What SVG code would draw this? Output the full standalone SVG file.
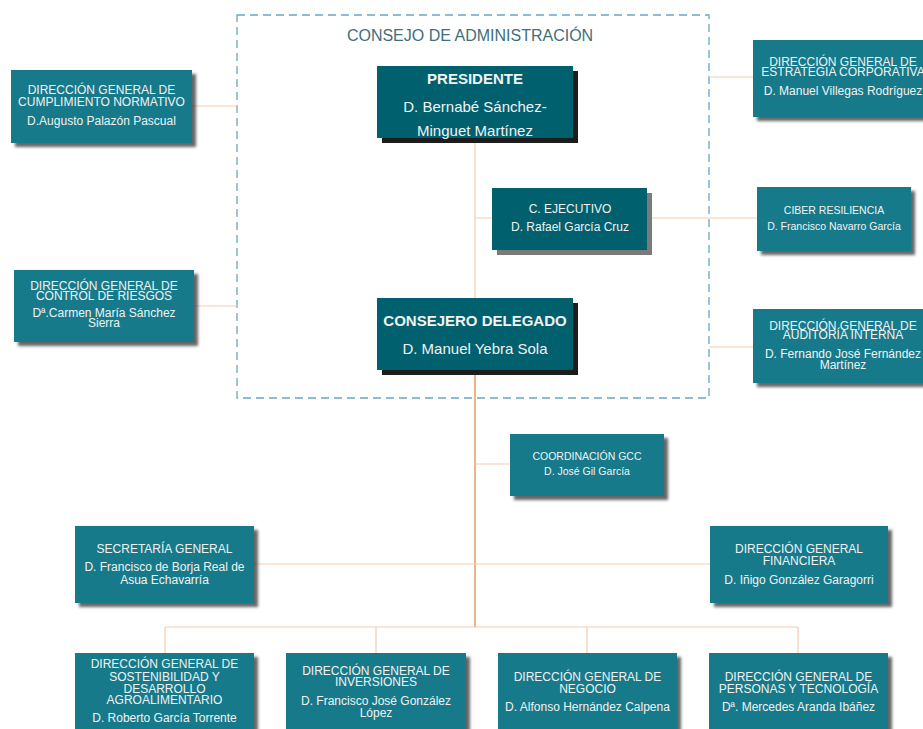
<svg xmlns="http://www.w3.org/2000/svg" width="923" height="729" viewBox="0 0 923 729">
<defs>
<filter id="sh" x="-10%" y="-10%" width="130%" height="140%">
<feDropShadow dx="4" dy="4" stdDeviation="1.6" flood-color="#333" flood-opacity="0.75"/>
</filter>
<filter id="shg" x="-10%" y="-10%" width="130%" height="140%">
<feDropShadow dx="5" dy="5" stdDeviation="0.6" flood-color="#7a7a7a" flood-opacity="1"/>
</filter>
<filter id="shk" x="-10%" y="-10%" width="130%" height="140%">
<feDropShadow dx="5" dy="5" stdDeviation="0.4" flood-color="#1e1e1e" flood-opacity="1"/>
</filter>
</defs>
<style>
.lt{fill:#147a8b;filter:url(#sh)}
.dk{fill:#00616e;filter:url(#shk)}
.dg{fill:#00616e;filter:url(#shg)}
text{font-family:"Liberation Sans",Arial,sans-serif;fill:#f2f2f2;text-anchor:middle}
.t12{font-size:12px}
.t105{font-size:10.5px}
.t15{font-size:15px}
.b15{font-size:15px;font-weight:bold}
.ln{stroke:#f6cbae;stroke-width:1.2;fill:none}
.trunk{stroke:#e8a06c;stroke-width:1.6;fill:none}
</style>
<rect width="923" height="729" fill="#ffffff"/>
<g id="consejo">
<rect x="237" y="15" width="472" height="383" fill="none" stroke="#62a9c0" stroke-width="1.3" stroke-dasharray="8,5"/>
<text x="470" y="41" style="font-size:16px;fill:#3e6f7a">CONSEJO DE ADMINISTRACIÓN</text>
</g>
<g id="connectors">
<path class="ln" d="M475 138V298"/>
<path class="ln" d="M475 218H492M647 218H757"/>
<path class="ln" d="M192 106H237M194 306H237M709 77H753M709 347H753"/>
<path class="trunk" d="M475 370V627"/>
<path class="ln" d="M475 464H510"/>
<path class="ln" d="M254 564H710"/>
<path class="ln" d="M165 627H798M165 627V653M376 627V653M587 627V653M798 627V653"/>
</g>
<g id="presidente">
<rect class="dk" x="377" y="66" width="196" height="72"/>
<text class="b15" x="475" y="84">PRESIDENTE</text>
<text class="t15" x="475" y="112">D. Bernabé Sánchez-<tspan x="475" dy="24">Minguet Martínez</tspan></text>
</g>
<g id="ejecutivo">
<rect class="dg" x="492" y="188" width="155" height="62"/>
<text class="t12" x="570" y="213">C. EJECUTIVO<tspan x="570" dy="18">D. Rafael García Cruz</tspan></text>
</g>
<g id="delegado">
<rect class="dk" x="377" y="298" width="196" height="72"/>
<text class="b15" x="475" y="326">CONSEJERO DELEGADO</text>
<text class="t15" x="475" y="354">D. Manuel Yebra Sola</text>
</g>
<g id="cumplimiento">
<rect class="lt" x="11" y="70" width="181" height="73"/>
<text class="t12" x="101.5" y="94">DIRECCIÓN GENERAL DE<tspan x="101.5" dy="11.5">CUMPLIMIENTO NORMATIVO</tspan><tspan x="101.5" dy="19">D.Augusto Palazón Pascual</tspan></text>
</g>
<g id="riesgos">
<rect class="lt" x="14" y="270" width="180" height="72"/>
<text class="t12" x="104" y="289.5">DIRECCIÓN GENERAL DE<tspan x="104" dy="10">CONTROL DE RIESGOS</tspan><tspan x="104" dy="17.5">Dª.Carmen María Sánchez</tspan><tspan x="104" dy="10">Sierra</tspan></text>
</g>
<g id="estrategia">
<rect class="lt" x="753" y="40" width="180" height="77"/>
<text class="t12" x="843" y="66">DIRECCIÓN GENERAL DE<tspan x="843" dy="10">ESTRATEGIA CORPORATIVA</tspan><tspan x="843" dy="19">D. Manuel Villegas Rodríguez</tspan></text>
</g>
<g id="ciber">
<rect class="lt" x="757" y="187" width="154" height="64"/>
<text class="t105" x="834" y="213.5">CIBER RESILIENCIA<tspan x="834" dy="16.5">D. Francisco Navarro García</tspan></text>
</g>
<g id="auditoria">
<rect class="lt" x="753" y="309" width="180" height="74"/>
<text class="t12" x="843" y="329.5">DIRECCIÓN GENERAL DE<tspan x="843" dy="9.5">AUDITORÍA INTERNA</tspan><tspan x="843" dy="19">D. Fernando José Fernández</tspan><tspan x="843" dy="10.5">Martínez</tspan></text>
</g>
<g id="coordinacion">
<rect class="lt" x="510" y="434" width="154" height="62"/>
<text class="t105" x="587" y="460">COORDINACIÓN GCC<tspan x="587" dy="15">D. José Gil García</tspan></text>
</g>
<g id="secretaria">
<rect class="lt" x="75" y="526" width="179" height="77"/>
<text class="t12" x="164.5" y="552.5">SECRETARÍA GENERAL<tspan x="164.5" dy="18.5">D. Francisco de Borja Real de</tspan><tspan x="164.5" dy="12.5">Asua Echavarría</tspan></text>
</g>
<g id="financiera">
<rect class="lt" x="710" y="526" width="178" height="77"/>
<text class="t12" x="799" y="552.5">DIRECCIÓN GENERAL<tspan x="799" dy="12">FINANCIERA</tspan><tspan x="799" dy="19">D. Iñigo González Garagorri</tspan></text>
</g>
<g id="sostenibilidad">
<rect class="lt" x="75" y="653" width="179" height="90"/>
<text class="t12" x="164.5" y="668">DIRECCIÓN GENERAL DE<tspan x="164.5" dy="12.5">SOSTENIBILIDAD Y</tspan><tspan x="164.5" dy="12">DESARROLLO</tspan><tspan x="164.5" dy="11.5">AGROALIMENTARIO</tspan><tspan x="164.5" dy="18">D. Roberto García Torrente</tspan></text>
</g>
<g id="inversiones">
<rect class="lt" x="286" y="653" width="180" height="90"/>
<text class="t12" x="376" y="674.5">DIRECCIÓN GENERAL DE<tspan x="376" dy="11.5">INVERSIONES</tspan><tspan x="376" dy="19">D. Francisco José González</tspan><tspan x="376" dy="12">López</tspan></text>
</g>
<g id="negocio">
<rect class="lt" x="498" y="653" width="179" height="90"/>
<text class="t12" x="587.5" y="681">DIRECCIÓN GENERAL DE<tspan x="587.5" dy="12">NEGOCIO</tspan><tspan x="587.5" dy="18">D. Alfonso Hernández Calpena</tspan></text>
</g>
<g id="personas">
<rect class="lt" x="709" y="653" width="179" height="90"/>
<text class="t12" x="798.5" y="681">DIRECCIÓN GENERAL DE<tspan x="798.5" dy="12">PERSONAS Y TECNOLOGÍA</tspan><tspan x="798.5" dy="18">Dª. Mercedes Aranda Ibáñez</tspan></text>
</g>
</svg>
